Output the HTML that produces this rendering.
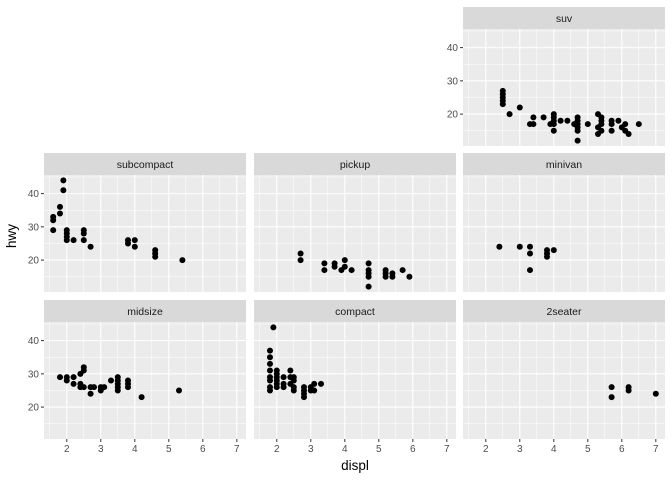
<!DOCTYPE html>
<html><head><meta charset="utf-8"><style>
body{margin:0;background:#fff;}
text{font-family:"Liberation Sans",sans-serif;}
</style></head><body>
<svg id="c" width="672" height="480" xmlns="http://www.w3.org/2000/svg"></svg>
<script>
const panels = ["suv","subcompact","pickup","minivan","midsize","compact","2seater"];
const panelPos = [[0,2],[1,0],[1,1],[1,2],[2,0],[2,1],[2,2]];
const xTicks = [2,3,4,5,6,7];
const yTicks = [20,30,40];
const suv = [[2.5,23],[2.5,24],[2.5,25],[2.5,26],[2.5,27],[2.7,20],[3.0,22],[3.3,17],[3.4,17],[3.4,19],[3.7,19],[3.9,17],[4.0,15],[4.0,17],[4.0,19],[4.0,20],[4.0,18],[4.2,18],[4.4,18],[4.6,17],[4.7,12],[4.7,15],[4.7,16],[4.7,17],[4.7,18],[4.7,19],[5.0,17],[5.3,16],[5.3,20],[5.4,15],[5.4,17],[5.4,18],[5.4,19],[5.3,14],[5.7,18],[5.7,15],[5.7,17],[5.9,18],[6.0,16],[6.1,15],[6.2,14],[6.1,17],[6.5,17]];
const subcompact = [[1.6,29],[1.6,32],[1.6,33],[1.8,34],[1.8,36],[1.9,41],[1.9,44],[2.0,26],[2.0,27],[2.0,28],[2.0,29],[2.2,26],[2.5,26],[2.5,28],[2.5,29],[2.7,24],[3.8,25],[3.8,26],[4.0,24],[4.0,26],[4.6,21],[4.6,22],[4.6,23],[5.4,20]];
const pickup = [[2.7,20],[2.7,22],[3.4,17],[3.4,19],[3.7,18],[3.7,19],[3.9,17],[4.0,18],[4.0,20],[4.2,17],[4.7,12],[4.7,15],[4.7,16],[4.7,17],[4.7,19],[5.2,15],[5.2,16],[5.2,17],[5.4,15],[5.4,16],[5.7,17],[5.9,15]];
const minivan = [[2.4,24],[3.0,24],[3.3,17],[3.3,22],[3.3,24],[3.8,21],[3.8,22],[3.8,23],[4.0,23]];
const midsize = [[1.8,29],[2.0,29],[2.0,28],[2.2,27],[2.2,29],[2.4,26],[2.4,27],[2.4,30],[2.5,26],[2.5,31],[2.5,32],[2.7,24],[2.7,26],[2.8,26],[3.0,25],[3.0,26],[3.1,26],[3.3,28],[3.5,25],[3.5,26],[3.5,27],[3.5,28],[3.5,29],[3.8,26],[3.8,27],[3.8,28],[4.2,23],[5.3,25]];
const compact = [[1.8,29],[1.8,25],[1.8,26],[1.8,28],[1.8,31],[1.8,33],[1.8,35],[1.8,37],[1.9,44],[2.0,26],[2.0,27],[2.0,28],[2.0,29],[2.0,30],[2.0,31],[2.2,26],[2.2,27],[2.2,29],[2.4,27],[2.4,29],[2.4,31],[2.5,25],[2.5,26],[2.5,28],[2.5,29],[2.8,23],[2.8,24],[2.8,25],[2.8,26],[3.0,25],[3.0,26],[3.1,25],[3.1,27],[3.3,27]];
const twoSeater = [[5.7,23],[5.7,26],[6.2,25],[6.2,26],[7.0,24]];
const panelData = [suv,subcompact,pickup,minivan,midsize,compact,twoSeater];

const NS="http://www.w3.org/2000/svg", svg=document.getElementById('c');
function mk(t,a,p){const e=document.createElementNS(NS,t);for(const k in a)e.setAttribute(k,a[k]);(p||svg).appendChild(e);return e;}
const colX=[44,254,463], W=202, rowY=[7,153,300], SH=22, PH=117;
const xmin=1.33,xmax=7.27,ymin=10.4,ymax=45.6;
panels.forEach((name,i)=>{
  const [r,c]=panelPos[i]; const x0=colX[c], sy=rowY[r], y0=sy+SH;
  const sx=v=>x0+(v-xmin)/(xmax-xmin)*W;
  const syf=v=>y0+PH-(v-ymin)/(ymax-ymin)*PH;
  const g=mk('g',{});
  
  
  const strip=mk('rect',{x:x0,y:sy,width:W,height:SH,fill:'#d9d9d9'},g);
  
  
  const st=mk('text',{x:x0+W/2,y:sy+15,'text-anchor':'middle','font-size':'10.5',fill:'#1a1a1a'},g);st.textContent=name;
  
  
  const bg=mk('rect',{x:x0,y:y0,width:W,height:PH,fill:'#ebebeb'},g);
  
  
  [15,25,35,45].forEach(v=>mk('line',{x1:x0,x2:x0+W,y1:syf(v),y2:syf(v),stroke:'#fff','stroke-width':0.5},g));
  [1.5,2.5,3.5,4.5,5.5,6.5].forEach(v=>mk('line',{x1:sx(v),x2:sx(v),y1:y0,y2:y0+PH,stroke:'#fff','stroke-width':0.5},g));
  yTicks.forEach(v=>mk('line',{x1:x0,x2:x0+W,y1:syf(v),y2:syf(v),stroke:'#fff','stroke-width':1.1},g));
  xTicks.forEach(v=>mk('line',{x1:sx(v),x2:sx(v),y1:y0,y2:y0+PH,stroke:'#fff','stroke-width':1.1},g));
  panelData[i].forEach(p=>{
    const d=mk('circle',{cx:sx(p[0]),cy:syf(p[1]),r:3,fill:'#000'},g);
    
    
  });
  if(c===0||r===0){
    yTicks.forEach(v=>{
      mk('line',{x1:x0-3,x2:x0,y1:syf(v),y2:syf(v),stroke:'#333','stroke-width':1},g);
      const t=mk('text',{x:x0-5,y:syf(v)+3.5,'text-anchor':'end','font-size':'10',fill:'#4d4d4d'},g);t.textContent=v;
      
      
    });
  }
  if(r===2){
    xTicks.forEach(v=>{
      mk('line',{x1:sx(v),x2:sx(v),y1:y0+PH,y2:y0+PH+3,stroke:'#333','stroke-width':1},g);
      const t=mk('text',{x:sx(v),y:y0+PH+13,'text-anchor':'middle','font-size':'10',fill:'#4d4d4d'},g);t.textContent=v;
      
      
    });
  }
});
const xt=mk('text',{x:355,y:470,'text-anchor':'middle','font-size':'13.5',fill:'#000'});xt.textContent='displ';


const yt=mk('text',{x:0,y:0,'text-anchor':'middle','font-size':'13.5',fill:'#000',transform:'translate(16,236) rotate(-90)'});yt.textContent='hwy';


</script>
</body></html>
